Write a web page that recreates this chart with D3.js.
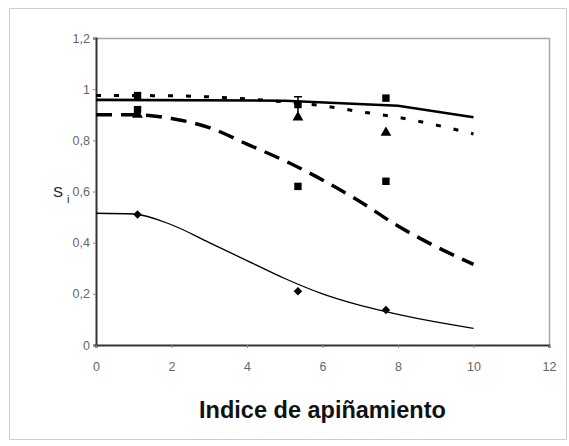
<!DOCTYPE html>
<html>
<head>
<meta charset="utf-8">
<script src="https://cdn.jsdelivr.net/npm/d3@7"></script>
<style>
  html, body { margin: 0; padding: 0; background: #fff; }
  svg { display: block; }
</style>
</head>
<body>
<svg id="chart" width="569" height="446"></svg>
<script>
// Axis ticks
const xTicks = [0, 2, 4, 6, 8, 10, 12];
const yTicks = [0, 0.2, 0.4, 0.6, 0.8, 1, 1.2];

// Observed survival values at three crowding indices
const obsX = [1.1, 5.35, 7.68];
const squaresHigh = [0.975, 0.94, 0.965];
const triangles = [0.90, 0.89, 0.83];
const squaresLow = [0.92, 0.62, 0.64];
const diamonds = [0.51, 0.21, 0.137];

// Fitted curves
const thickX = [0, 5, 8, 10];
const thickY = [0.958, 0.955, 0.935, 0.89];
const curveX = [0, 1, 2, 3, 4, 5, 6, 7, 8, 9, 10];
const dottedY = [0.975, 0.975, 0.974, 0.97, 0.962, 0.95, 0.935, 0.912, 0.89, 0.86, 0.825];
const dashedY = [0.90, 0.90, 0.885, 0.85, 0.785, 0.72, 0.645, 0.56, 0.465, 0.385, 0.315];
const thinY = [0.515, 0.512, 0.47, 0.40, 0.33, 0.26, 0.20, 0.155, 0.12, 0.09, 0.065];

const svg = d3.select("#chart");
const font = "Arial, 'Liberation Sans', sans-serif";

// Outer frame
svg.append("rect")
  .attr("x", 9.5).attr("y", 8.5).attr("width", 557).attr("height", 431)
  .attr("fill", "#fff").attr("stroke", "#cfcfcf").attr("stroke-width", 1);

const plotL = 96, plotR = 549, plotT = 38, plotB = 345;
const x = d3.scaleLinear().domain([0, 12]).range([plotL, plotR]);
const y = d3.scaleLinear().domain([0, 1.2]).range([plotB, plotT]);

// Plot area border (top and right)
svg.append("path")
  .attr("d", `M${plotL},${plotT + 0.5}H${plotR + 0.5}V${plotB}`)
  .attr("fill", "none").attr("stroke", "#a8a8a8").attr("stroke-width", 1.5);

// Axes
const yAxis = svg.append("g")
  .attr("transform", `translate(${plotL},0)`)
  .call(d3.axisLeft(y).tickValues(yTicks).tickSize(3).tickPadding(3)
    .tickFormat(d => String(+d.toFixed(1)).replace(".", ",")));
const xAxis = svg.append("g")
  .attr("transform", `translate(0,${plotB})`)
  .call(d3.axisBottom(x).tickValues(xTicks).tickSize(3).tickPadding(14));

[xAxis, yAxis].forEach(g => {
  g.select(".domain").attr("stroke", "#333").attr("stroke-width", 2);
  g.selectAll(".tick line").attr("stroke", "#888");
  g.selectAll(".tick text")
    .attr("font-family", font).attr("font-size", 12.5).attr("fill", "#666");
});

// Curves
const plot = svg.append("g");
const smooth = d3.line().x(d => x(d[0])).y(d => y(d[1])).curve(d3.curveMonotoneX);
const straight = d3.line().x(d => x(d[0])).y(d => y(d[1]));

plot.append("path")
  .attr("d", straight(thickX.map((v, i) => [v, thickY[i]])))
  .attr("fill", "none").attr("stroke", "#000").attr("stroke-width", 2.6);

plot.append("path")
  .attr("d", smooth(curveX.map((v, i) => [v, dottedY[i]])))
  .attr("fill", "none").attr("stroke", "#000").attr("stroke-width", 3)
  .attr("stroke-dasharray", "5,13");

plot.append("path")
  .attr("d", smooth(curveX.map((v, i) => [v, dashedY[i]])))
  .attr("fill", "none").attr("stroke", "#000").attr("stroke-width", 3.5)
  .attr("stroke-dasharray", "16,9");

plot.append("path")
  .attr("d", smooth(curveX.map((v, i) => [v, thinY[i]])))
  .attr("fill", "none").attr("stroke", "#000").attr("stroke-width", 1.3);

// Error bar on the middle high square
plot.append("path")
  .attr("d", `M${x(obsX[1]) - 4},${y(0.97)}H${x(obsX[1]) + 4}M${x(obsX[1])},${y(0.97)}V${y(0.91)}`)
  .attr("stroke", "#000").attr("stroke-width", 1.5);

// Markers
function drawMarkers(values, type, size, rotate) {
  plot.selectAll(null)
    .data(obsX.map((v, i) => [v, values[i]]))
    .join("path")
    .attr("transform", d => `translate(${x(d[0])},${y(d[1])}) rotate(${rotate || 0})`)
    .attr("d", d3.symbol().type(type).size(size))
    .attr("fill", "#000");
}
drawMarkers(squaresHigh, d3.symbolSquare, 55);
drawMarkers(squaresLow, d3.symbolSquare, 55);
drawMarkers(triangles, d3.symbolTriangle, 50);
drawMarkers(diamonds, d3.symbolSquare, 36, 45);

// Axis titles
svg.append("text")
  .attr("x", (plotL + plotR) / 2).attr("y", 418)
  .attr("text-anchor", "middle")
  .attr("font-family", font).attr("font-weight", "bold").attr("font-size", 23.5)
  .attr("fill", "#111")
  .text("Indice de apiñamiento");

const yTitle = svg.append("text")
  .attr("x", 53).attr("y", 197)
  .attr("font-family", font).attr("font-size", 15).attr("fill", "#222");
yTitle.append("tspan").text("S");
yTitle.append("tspan").attr("dx", 4).attr("dy", 6).attr("font-size", 11).text("i");
</script>
</body>
</html>
